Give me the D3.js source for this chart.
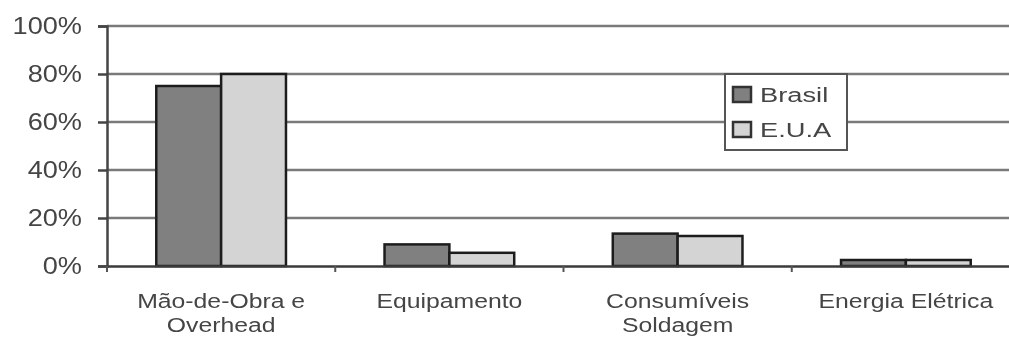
<!DOCTYPE html>
<html>
<head>
<meta charset="utf-8">
<script src="https://cdn.jsdelivr.net/npm/d3@7"></script>
<style>
  body { margin: 0; background: #fff; }
  text { font-family: "Liberation Sans", Arial, sans-serif; fill: #454545; }
</style>
</head>
<body>
<div id="chart"></div>
<script>
// data
var categories = [["Mão-de-Obra e", "Overhead"], ["Equipamento"], ["Consumíveis", "Soldagem"], ["Energia Elétrica"]];
var seriesNames = ["Brasil", "E.U.A"];
var brasil = [75, 9, 13.5, 2.5];
var eua = [80, 5.5, 12.5, 2.5];
var yTicks = [0, 20, 40, 60, 80, 100];

var svgWidth = 1009, svgHeight = 338;
var margin = { top: 26, right: -11, bottom: 72, left: 107 };
var width = svgWidth - margin.left - margin.right;
var height = svgHeight - margin.top - margin.bottom;

var colors = { "Brasil": "#808080", "E.U.A": "#d4d4d4" };
var stretch = 1.18; // text in the picture is wider than normal

var svg = d3.select("#chart").append("svg")
  .attr("width", svgWidth)
  .attr("height", svgHeight);

svg.append("defs").append("filter")
  .attr("id", "soft")
  .append("feGaussianBlur")
  .attr("stdDeviation", 0.6);

var root = svg.append("g").attr("filter", "url(#soft)");
root.append("rect").attr("width", svgWidth).attr("height", svgHeight).attr("fill", "#fff");

var chartGroup = root.append("g")
  .attr("transform", `translate(${margin.left}, ${margin.top})`);

var x0 = d3.scaleBand()
  .domain(d3.range(categories.length))
  .range([0, width]);

var x1 = d3.scaleBand()
  .domain(seriesNames)
  .range([0, x0.bandwidth()])
  .paddingOuter(0.76);

var y = d3.scaleLinear().domain([0, 100]).range([height, 0]);

// gridlines
chartGroup.append("g")
  .selectAll("line")
  .data(yTicks.filter(d => d > 0))
  .enter()
  .append("line")
  .attr("x1", 0)
  .attr("x2", width)
  .attr("y1", d => y(d))
  .attr("y2", d => y(d))
  .attr("stroke", "#7a7a7a")
  .attr("stroke-width", 2.5);

// y axis
var leftAxis = d3.axisLeft(y).tickValues(yTicks).tickFormat("").tickSize(9);
var yAxis = chartGroup.append("g").call(leftAxis);
yAxis.select(".domain").attr("stroke", "#444").attr("stroke-width", 2.5);
yAxis.selectAll(".tick line").attr("stroke", "#444").attr("stroke-width", 2.5);

chartGroup.append("g")
  .selectAll("text")
  .data(yTicks)
  .enter()
  .append("text")
  .attr("text-anchor", "end")
  .attr("transform", d => `translate(-25, ${y(d) + 8}) scale(${stretch}, 1)`)
  .style("font-size", "23px")
  .text(d => d + "%");

// bars
var rows = categories.map((c, i) => ({ i: i, vals: [brasil[i], eua[i]] }));
var groups = chartGroup.selectAll(".grp")
  .data(rows)
  .enter()
  .append("g")
  .attr("transform", d => `translate(${x0(d.i)}, 0)`);

groups.selectAll("rect")
  .data(d => d.vals.map((v, j) => ({ name: seriesNames[j], value: v })))
  .enter()
  .append("rect")
  .attr("x", d => x1(d.name))
  .attr("y", d => y(d.value))
  .attr("width", x1.bandwidth())
  .attr("height", d => height - y(d.value))
  .attr("fill", d => colors[d.name])
  .attr("stroke", "#1e1e1e")
  .attr("stroke-width", 2.5);

// x axis
var bottomAxis = d3.axisBottom(x0).tickSize(0).tickFormat("");
var xAxis = chartGroup.append("g")
  .attr("transform", `translate(0, ${height})`)
  .call(bottomAxis);
xAxis.select(".domain").attr("stroke", "#3a3a3a").attr("stroke-width", 2.5);

// category boundary ticks
chartGroup.append("g")
  .selectAll("line")
  .data(d3.range(categories.length + 1))
  .enter()
  .append("line")
  .attr("x1", d => d * x0.step())
  .attr("x2", d => d * x0.step())
  .attr("y1", height)
  .attr("y2", height + 6)
  .attr("stroke", "#555")
  .attr("stroke-width", 2);

// category labels
var labels = chartGroup.append("g").selectAll("text")
  .data(categories)
  .enter()
  .append("text")
  .attr("text-anchor", "middle")
  .attr("transform", (d, i) => `translate(${x0(i) + x0.bandwidth() / 2}, ${height + 42}) scale(${stretch}, 1)`)
  .style("font-size", "21px");

labels.selectAll("tspan")
  .data(d => d)
  .enter()
  .append("tspan")
  .attr("x", 0)
  .attr("dy", (d, i) => i === 0 ? 0 : 24)
  .text(d => d);

// legend
var legend = root.append("g").attr("transform", "translate(725, 74)");
legend.append("rect")
  .attr("width", 122)
  .attr("height", 76)
  .attr("fill", "#fff")
  .attr("stroke", "#555")
  .attr("stroke-width", 2);

var items = legend.selectAll(".item")
  .data(seriesNames)
  .enter()
  .append("g")
  .attr("transform", (d, i) => `translate(8, ${13 + i * 35})`);

items.append("rect")
  .attr("width", 18)
  .attr("height", 15)
  .attr("fill", d => colors[d])
  .attr("stroke", "#333")
  .attr("stroke-width", 2.5);

items.append("text")
  .attr("transform", "translate(27, 15) scale(1.3, 1)")
  .style("font-size", "21px")
  .attr("fill", "#666")
  .text(d => d);
</script>
</body>
</html>
